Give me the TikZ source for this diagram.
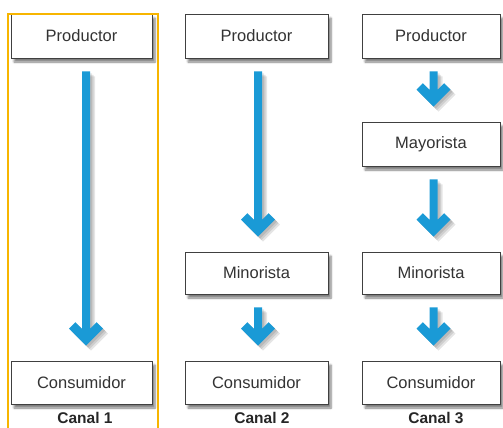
\documentclass[tikz,border=0pt]{standalone}
\usepackage{fontspec}
\setmainfont{Liberation Sans}
\usetikzlibrary{calc,shadows.blur}
\definecolor{flowblue}{HTML}{1A9AD6}
\definecolor{frameyellow}{HTML}{F7B500}
\definecolor{txt}{HTML}{333333}
\tikzset{
  box/.style={draw=black!75, line width=0.8pt, fill=white, text=txt,
    font=\fontsize{16.5}{19}\selectfont, inner sep=0pt,
    blur shadow={shadow xshift=3pt, shadow yshift=-4pt, shadow blur steps=6, shadow opacity=50}},
  canal/.style={text=black!85, font=\fontsize{15.5}{18}\selectfont\bfseries, inner sep=0pt},
  flowpath/.style={to path={let \p1=(\tikztostart), \p2=(\tikztotarget) in
     (\x1+#1-4pt,\y1-13pt) -- (\x1+#1-4pt,\y2+31.8pt) -- (\x1+#1-10.6pt,\y2+38.4pt)
     -- (\x1+#1-17pt,\y2+32pt) -- (\x1+#1,\y2+15pt) -- (\x1+#1+17pt,\y2+32pt)
     -- (\x1+#1+10.6pt,\y2+38.4pt) -- (\x1+#1+4pt,\y2+31.8pt) -- (\x1+#1+4pt,\y1-13pt) -- cycle}},
  flowarrow/.style={fill=flowblue, flowpath=#1},
  flowshade/.style={fill=black, fill opacity=0.1, flowpath=#1}
}
\begin{document}
\begin{tikzpicture}[x=1pt,y=-1pt]
\useasboundingbox (0,0) rectangle (503,428);
% Canal 1
\node[box, minimum width=141pt, minimum height=44pt] (p1) at (81.5,36) {Productor};
\node[box, minimum width=141pt, minimum height=43pt] (c1) at (81.5,382.5) {Consumidor};
\node[canal] (l1) at (85,418) {Canal 1};
% Canal 2
\node[box, minimum width=143pt, minimum height=44pt] (p2) at (256.5,36) {Productor};
\node[box, minimum width=143pt, minimum height=42pt] (m2) at (256.5,273) {Minorista};
\node[box, minimum width=143pt, minimum height=43pt] (c2) at (256.5,382.5) {Consumidor};
\node[canal] (l2) at (262,418) {Canal 2};
% Canal 3
\node[box, minimum width=138pt, minimum height=44pt] (p3) at (431,36) {Productor};
\node[box, minimum width=138pt, minimum height=44pt] (y3) at (431,144) {Mayorista};
\node[box, minimum width=138pt, minimum height=42pt] (m3) at (431,273) {Minorista};
\node[box, minimum width=138pt, minimum height=43pt] (c3) at (431,382.5) {Consumidor};
\node[canal] (l3) at (436,418) {Canal 3};
% frame
\draw[frameyellow, line width=1.8pt] (8,429) |- (158,14) -- (158,429);
% arrow shadows (soft)
\foreach \s in {2,3.5,5}{
  \begin{scope}[transform canvas={shift={(\s pt,-\s pt)}}]
  \path[flowshade=4.5pt] (p1.south) to (c1.north);
  \path[flowshade=1.5pt] (p2.south) to (m2.north);
  \path[flowshade=1.5pt] (m2.south) to (c2.north);
  \path[flowshade=2.5pt] (p3.south) to (y3.north);
  \path[flowshade=2.5pt] (y3.south) to (m3.north);
  \path[flowshade=2.5pt] (m3.south) to (c3.north);
  \end{scope}
}
% arrows
\path[flowarrow=4.5pt] (p1.south) to (c1.north);
\path[flowarrow=1.5pt] (p2.south) to (m2.north);
\path[flowarrow=1.5pt] (m2.south) to (c2.north);
\path[flowarrow=2.5pt] (p3.south) to (y3.north);
\path[flowarrow=2.5pt] (y3.south) to (m3.north);
\path[flowarrow=2.5pt] (m3.south) to (c3.north);
\end{tikzpicture}
\end{document}
